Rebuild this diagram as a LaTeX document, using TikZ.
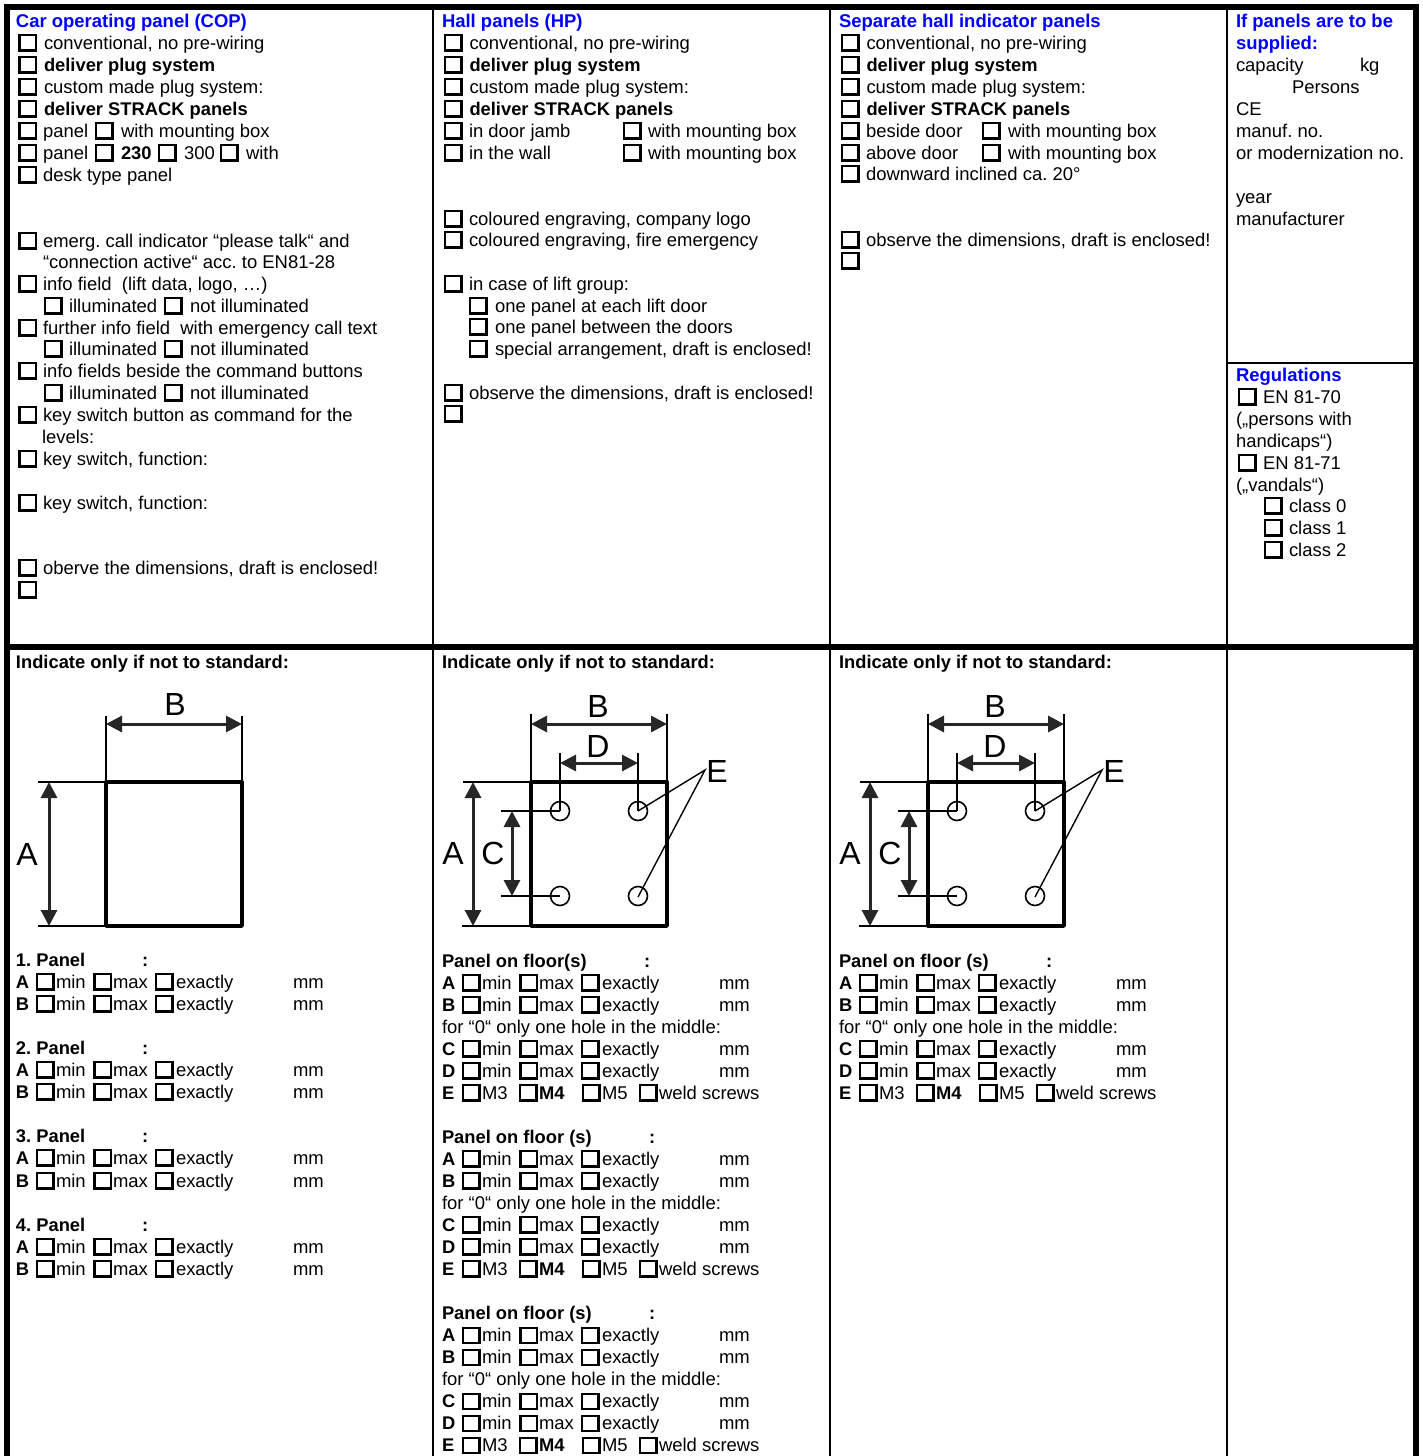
\documentclass[tikz,border=0pt]{standalone}
\usepackage{fontspec}
\setmainfont{Liberation Sans}
\usetikzlibrary{arrows.meta}
\newcounter{tn}
\frenchspacing
\definecolor{headblue}{RGB}{0,0,255}
\newcommand\bd[1]{{\fontsize{18.33}{22}\selectfont\bfseries #1}}
\tikzset{
  txt/.style={anchor=base west,inner sep=0pt,outer sep=0pt,font=\fontsize{18.45}{22}\selectfont,text=black},
  head/.style={txt,font=\fontsize{18.47}{22}\selectfont\bfseries,text=headblue},
  chk/.style={draw=black,line width=2.1pt,fill=white},
  frameheavy/.style={line width=6pt,black,line cap=butt,line join=miter},
  framethin/.style={line width=2.3pt,black,line cap=butt},
  dimlet/.style={inner sep=0pt,outer sep=0pt,font=\fontsize{32}{36}\selectfont,text=black},
  panelbox/.style={line width=3.4pt,draw=black,line join=round},
  extline/.style={line width=1.5pt,black},
  dimarrow/.style={line width=3pt,black!85,{Triangle[length=16pt,width=16pt]}-{Triangle[length=16pt,width=16pt]}},
  holec/.style={line width=1.6pt,draw=black},
  leader/.style={line width=1.4pt,black}
}
% text: x, row centre, text
\newcommand\tx[3]{\stepcounter{tn}\node[txt] (t\arabic{tn}) at (#1,#2+6) {#3};}
\newcommand\hd[3]{\stepcounter{tn}\node[head] (t\arabic{tn}) at (#1,#2+6.5) {#3};}
\newcommand\bx[2]{\draw[chk] (#1,#2-8) rectangle ++(16.5,15.5);}
% box + text
\newcommand\ct[4]{\bx{#1}{#3}\tx{#2}{#3}{#4}}
% measure row
\newcommand\mrow[3]{% offset x, row, letter
  \tx{#1+0}{#2}{\bd{#3}}
  \ct{#1+21}{#1+40}{#2}{min}
  \ct{#1+78.5}{#1+97}{#2}{max}
  \ct{#1+140}{#1+160}{#2}{exactly}
  \tx{#1+277}{#2}{mm}}
\newcommand\erow[2]{%
  \tx{#1+0}{#2}{\bd{E}}
  \ct{#1+21}{#1+40}{#2}{M3}
  \ct{#1+78}{#1+97}{#2}{\bd{M4}}
  \ct{#1+141}{#1+160}{#2}{M5}
  \ct{#1+198}{#1+217}{#2}{weld screws}}
\newcommand\fullgroup[2]{% x, first row centre
  \mrow{#1}{#2+22}{A}
  \mrow{#1}{#2+44}{B}
  \tx{#1}{#2+66}{for “0“ only one hole in the middle:}
  \mrow{#1}{#2+88}{C}
  \mrow{#1}{#2+110}{D}
  \erow{#1}{#2+132}}
\newcommand\topchoice[2]{% box x, row offset
  \ct{#1}{#1+24.5}{43}{conventional, no pre-wiring}
  \ct{#1}{#1+24.5}{65}{\bd{deliver plug system}}
  \ct{#1}{#1+24.5}{87}{custom made plug system:}
  \ct{#1}{#1+24.5}{109}{\bd{deliver STRACK panels}}}
\newcommand\holesdrawing[1]{% x offset from hall column
  \begin{scope}[xshift=#1pt]
  \draw[extline] (531,714) -- (531,782);
  \draw[extline] (667,714) -- (667,782);
  \draw[extline] (560,753) -- (560,811);
  \draw[extline] (638,753) -- (638,811);
  \draw[extline] (463,782) -- (531,782);
  \draw[extline] (462,926) -- (531,926);
  \draw[extline] (501,811) -- (560,811);
  \draw[extline] (501,896) -- (560,896);
  \draw[panelbox] (531,782) rectangle (667,926);
  \draw[dimarrow] (531,724) -- (667,724);
  \draw[dimarrow] (560,763) -- (638,763);
  \draw[dimarrow] (473,782) -- (473,926);
  \draw[dimarrow] (512,811) -- (512,896);
  \foreach \p in {(560,811),(638,811),(560,896),(638,896)}
    \draw[holec] \p circle (9.5);
  \draw[leader] (638,811) -- (705,770) -- (638,897);
  \end{scope}
  \stepcounter{tn}\node[dimlet] (t\arabic{tn}) at (598+#1,706) {B};
  \stepcounter{tn}\node[dimlet] (t\arabic{tn}) at (598+#1,746) {D};
  \stepcounter{tn}\node[dimlet] (t\arabic{tn}) at (717+#1,771) {E};
  \stepcounter{tn}\node[dimlet] (t\arabic{tn}) at (453+#1,853) {A};
  \stepcounter{tn}\node[dimlet] (t\arabic{tn}) at (493+#1,853) {C};}
\begin{document}
\begin{tikzpicture}[x=1pt,y=-1pt]
\useasboundingbox (0,0) rectangle (1423,1456);
% frame
\draw[frameheavy] (7,1456) -- (7,7) -- (1416,7) -- (1416,1456);
\draw[frameheavy] (4,647) -- (1419,647);
\draw[framethin] (433,6) -- (433,1456);
\draw[framethin] (830,6) -- (830,1456);
\draw[framethin] (1227,6) -- (1227,1456);
\draw[framethin] (1227,363) -- (1414,363);

% COP
\hd{16}{21}{Car operating panel (COP)}
\topchoice{19.5}{0}
\ct{19.5}{43}{131}{panel}
\ct{96}{121}{131}{with mounting box}
\ct{19.5}{43}{153}{panel}
\ct{96}{121}{153}{\bd{230}}
\ct{159}{184}{153}{300}
\ct{221}{246}{153}{with}
\ct{19.5}{43}{175}{desk type panel}
\ct{19.5}{43}{241}{emerg. call indicator “please talk“ and}
\tx{43}{262}{“connection active“ acc. to EN81-28}
\ct{19.5}{43}{284}{info field\ \ (lift data, logo, …)}
\ct{45}{69}{306}{illuminated}
\ct{165}{190}{306}{not illuminated}
\ct{19.5}{43}{328}{further info field\ \ with emergency call text}
\ct{45}{69}{349}{illuminated}
\ct{165}{190}{349}{not illuminated}
\ct{19.5}{43}{371}{info fields beside the command buttons}
\ct{45}{69}{393}{illuminated}
\ct{165}{190}{393}{not illuminated}
\ct{19.5}{43}{415}{key switch button as command for the}
\tx{42}{437}{levels:}
\ct{19.5}{43}{459}{key switch, function:}
\ct{19.5}{43}{503}{key switch, function:}
\ct{19.5}{43}{568}{oberve the dimensions, draft is enclosed!}
\bx{19.5}{590}

% HP
\hd{442}{21}{Hall panels (HP)}
\topchoice{445}{0}
\ct{445}{469}{131}{in door jamb}
\ct{624}{648}{131}{with mounting box}
\ct{445}{469}{153}{in the wall}
\ct{624}{648}{153}{with mounting box}
\ct{445}{469}{219}{coloured engraving, company logo}
\ct{445}{469}{240}{coloured engraving, fire emergency}
\ct{445}{469}{284}{in case of lift group:}
\ct{470}{495}{306}{one panel at each lift door}
\ct{470}{495}{327}{one panel between the doors}
\ct{470}{495}{349}{special arrangement, draft is enclosed!}
\ct{445}{469}{393}{observe the dimensions, draft is enclosed!}
\bx{445}{414}

% Separate
\hd{839}{21}{Separate hall indicator panels}
\topchoice{842}{0}
\ct{842}{866}{131}{beside door}
\ct{983}{1008}{131}{with mounting box}
\ct{842}{866}{153}{above door}
\ct{983}{1008}{153}{with mounting box}
\ct{842}{866}{174}{downward inclined ca. 20°}
\ct{842}{866}{240}{observe the dimensions, draft is enclosed!}
\bx{842}{261}

% Info column
\hd{1236}{21}{If panels are to be}
\hd{1236}{43}{supplied:}
\tx{1236}{65}{capacity}
\tx{1360}{65}{kg}
\tx{1292}{87}{Persons}
\tx{1236}{109}{CE}
\tx{1236}{131}{manuf. no.}
\tx{1236}{153}{or modernization no.}
\tx{1236}{197}{year}
\tx{1236}{219}{manufacturer}
\hd{1236}{375}{Regulations}
\ct{1239}{1263}{397}{EN 81-70}
\tx{1236}{419}{(„persons with}
\tx{1236}{441}{handicaps“)}
\ct{1239}{1263}{463}{EN 81-71}
\tx{1236}{485}{(„vandals“)}
\ct{1265}{1289}{506}{class 0}
\ct{1265}{1289}{528}{class 1}
\ct{1265}{1289}{550}{class 2}

% lower headings
\tx{16}{662}{\bd{Indicate only if not to standard:}}
\tx{442}{662}{\bd{Indicate only if not to standard:}}
\tx{839}{662}{\bd{Indicate only if not to standard:}}

% drawing 1
\draw[extline] (106,716) -- (106,782);
\draw[extline] (242,716) -- (242,782);
\draw[extline] (38,782) -- (106,782);
\draw[extline] (38,926) -- (106,926);
\draw[panelbox] (106,782) rectangle (242,926);
\draw[dimarrow] (106,724) -- (242,724);
\draw[dimarrow] (49,782) -- (49,926);
\stepcounter{tn}\node[dimlet] (t\arabic{tn}) at (175,704) {B};
\stepcounter{tn}\node[dimlet] (t\arabic{tn}) at (27,854) {A};
% drawings 2, 3
\holesdrawing{0}
\holesdrawing{397}

% COP sizes
\tx{16}{960}{\bd{1. Panel}}\tx{142}{960}{\bd{:}}
\mrow{16}{982}{A}\mrow{16}{1004}{B}
\tx{16}{1048}{\bd{2. Panel}}\tx{142}{1048}{\bd{:}}
\mrow{16}{1070}{A}\mrow{16}{1092}{B}
\tx{16}{1136}{\bd{3. Panel}}\tx{142}{1136}{\bd{:}}
\mrow{16}{1158}{A}\mrow{16}{1181}{B}
\tx{16}{1225}{\bd{4. Panel}}\tx{142}{1225}{\bd{:}}
\mrow{16}{1247}{A}\mrow{16}{1269}{B}

% HP sizes
\tx{442}{961}{\bd{Panel on floor(s)}}\tx{644}{961}{\bd{:}}
\fullgroup{442}{961}
\tx{442}{1137}{\bd{Panel on floor (s)}}\tx{649}{1137}{\bd{:}}
\fullgroup{442}{1137}
\tx{442}{1313}{\bd{Panel on floor (s)}}\tx{649}{1313}{\bd{:}}
\fullgroup{442}{1313.8}

% Separate sizes
\tx{839}{961}{\bd{Panel on floor (s)}}\tx{1046}{961}{\bd{:}}
\fullgroup{839}{961}
\end{tikzpicture}
\end{document}
